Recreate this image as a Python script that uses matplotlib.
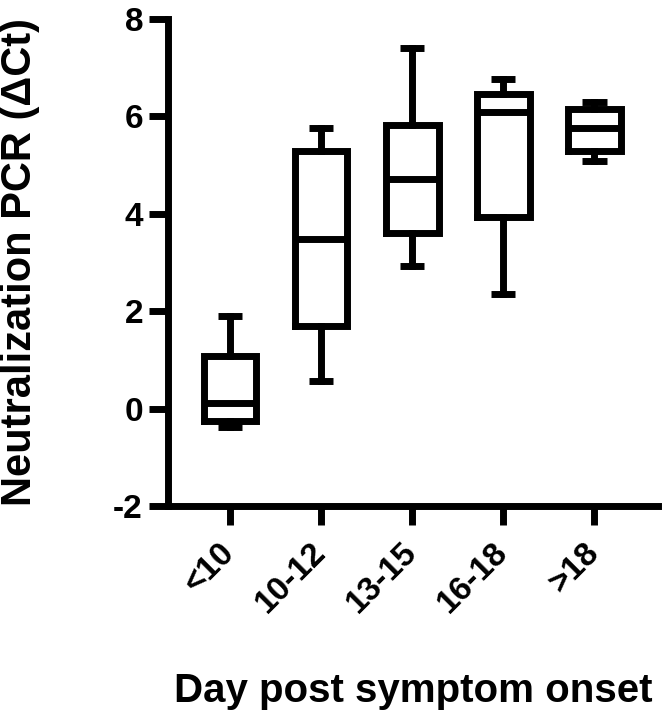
import matplotlib
matplotlib.use('Agg')
import matplotlib.pyplot as plt

# ── Data ──
groups = ['<10', '10-12', '13-15', '16-18', '>18']
whislo = [-0.38, 0.56, 2.93, 2.35, 5.08]
q1 = [-0.25, 1.69, 3.60, 3.93, 5.28]
med = [0.11, 3.49, 4.71, 6.10, 5.77]
q3 = [1.07, 5.29, 5.83, 6.45, 6.15]
whishi = [1.91, 5.76, 7.40, 6.77, 6.30]

plt.rcParams['font.family'] = ['Liberation Sans', 'DejaVu Sans']
plt.rcParams['font.weight'] = 'bold'
plt.rcParams['axes.unicode_minus'] = False

fig = plt.figure(figsize=(6.64, 7.19), dpi=100)
# axes box in pixels: x 168..658, y 19..506
ax = fig.add_axes([168 / 664, 1 - 506 / 719, 490 / 664, 487 / 719])

stats = []
for g, lo, a, m, b, hi in zip(groups, whislo, q1, med, q3, whishi):
    stats.append(dict(label=g, whislo=lo, q1=a, med=m, q3=b, whishi=hi, fliers=[]))

lw = 5.0
line = dict(color='black', linewidth=lw, solid_joinstyle='miter')
ax.bxp(stats, positions=range(1, 6), widths=0.58, capwidths=0.27,
       showfliers=False, patch_artist=False,
       boxprops=line, medianprops=line,
       whiskerprops=dict(color='black', linewidth=lw),
       capprops=dict(color='black', linewidth=lw, solid_capstyle='butt'))

ax.set_ylim(-2, 8)
ax.set_xlim(0.32, 5.70)
ax.set_yticks([-2, 0, 2, 4, 6, 8])

for s in ['top', 'right']:
    ax.spines[s].set_visible(False)
for s in ['left', 'bottom']:
    ax.spines[s].set_linewidth(lw)
    ax.spines[s].set_capstyle('projecting')

ax.tick_params(axis='both', length=14, width=lw, labelsize=24)
ax.tick_params(axis='y', pad=4)
ax.tick_params(axis='x', pad=16)
ax.set_xticks(range(1, 6))
ax.set_xticklabels(groups, rotation=45, ha='right', va='center',
                   rotation_mode='anchor', fontweight='bold')
for t in ax.get_yticklabels():
    t.set_fontweight('bold')

ax.set_ylabel('Neutralization PCR (\u0394Ct)', fontsize=30, fontweight='bold')
ax.set_xlabel('Day post symptom onset', fontsize=29, fontweight='bold')
ax.yaxis.set_label_coords(-0.262, 0.5)
ax.xaxis.set_label_coords(0.5, -0.34)

fig.savefig('out.png', dpi=100, facecolor='white')
